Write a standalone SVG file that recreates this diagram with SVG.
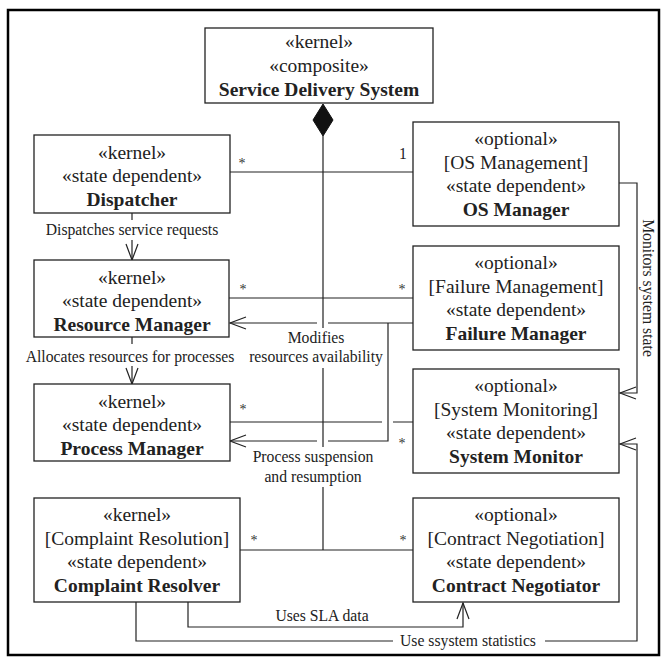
<svg xmlns="http://www.w3.org/2000/svg" width="667" height="662" viewBox="0 0 667 662">
<style>
.box{fill:#fff;stroke:#222;stroke-width:1.3}
.t{font-family:"Liberation Serif","Times New Roman",serif;font-size:19.5px;fill:#222;text-anchor:middle}
.b{font-weight:bold}
.l{font-family:"Liberation Serif","Times New Roman",serif;font-size:15.7px;fill:#222;text-anchor:middle}
.s{font-family:"Liberation Serif","Times New Roman",serif;font-size:14px;fill:#333;text-anchor:middle}
.c{fill:none;stroke:#222;stroke-width:1.2}
</style>
<defs>
<marker id="open" markerWidth="18" markerHeight="14" refX="17" refY="7" orient="auto" markerUnits="userSpaceOnUse" viewBox="0 0 18 14">
<path d="M1,1 L17,7 L1,13" fill="none" stroke="#222" stroke-width="1.2"/>
</marker>
</defs>
<rect x="8" y="10" width="651" height="645" fill="#fff" stroke="#000" stroke-width="2.5"/>

<g id="connectors">
<polygon points="323,104 333,120 323,136 313,120" fill="#111" stroke="#111"/>
<path class="c" d="M323,136 V328 M323,368 V447 M323,487 V550"/>
<path class="c" d="M230,172 H413"/>
<text class="s" x="242" y="168">*</text>
<text class="l" x="403" y="159">1</text>
<path class="c" d="M132,213 V220"/>
<path class="c" d="M132,240 V260" marker-end="url(#open)"/>
<text class="l" x="132" y="235">Dispatches service requests</text>
<path class="c" d="M229,298 H413"/>
<text class="s" x="243" y="294">*</text>
<text class="s" x="402" y="294">*</text>
<path class="c" d="M132,337 V344"/>
<path class="c" d="M132,366 V384" marker-end="url(#open)"/>
<text class="l" x="130" y="362">Allocates resources for processes</text>
<path class="c" d="M413,323 H328"/>
<path class="c" d="M317,323 H230" marker-end="url(#open)"/>
<text class="l" x="316" y="343">Modifies</text>
<text class="l" x="316" y="362">resources availability</text>
<path class="c" d="M388,323 V441 H328"/>
<path class="c" d="M317,441 H230" marker-end="url(#open)"/>
<text class="l" x="313" y="462">Process suspension</text>
<text class="l" x="313" y="482">and resumption</text>
<path class="c" d="M230,422 H382 M393,422 H413"/>
<text class="s" x="243" y="414">*</text>
<text class="s" x="402" y="448">*</text>
<path class="c" d="M619,183 H637 V393 H620" marker-end="url(#open)"/>
<text class="l" transform="translate(648,288) rotate(90)" x="0" y="5">Monitors system state</text>
<path class="c" d="M240,550 H413"/>
<text class="s" x="254" y="545">*</text>
<text class="s" x="403" y="545">*</text>
<path class="c" d="M188,602 V627 H463 V603" marker-end="url(#open)"/>
<text class="l" x="322" y="621">Uses SLA data</text>
<path class="c" d="M136,602 V641 H393"/>
<path class="c" d="M545,641 H637 V444 H620" marker-end="url(#open)"/>
<text class="l" x="468" y="646">Use ssystem statistics</text>
</g>

<g id="sds">
<rect class="box" x="205" y="28" width="228" height="75"/>
<text class="t" x="319" y="48">«kernel»</text>
<text class="t" x="319" y="72">«composite»</text>
<text class="t b" x="319" y="96">Service Delivery System</text>
</g>

<g id="dispatcher">
<rect class="box" x="34" y="135" width="196" height="78"/>
<text class="t" x="132" y="159">«kernel»</text>
<text class="t" x="132" y="182">«state dependent»</text>
<text class="t b" x="132" y="206">Dispatcher</text>
</g>

<g id="os-manager">
<rect class="box" x="413" y="122" width="206" height="104"/>
<text class="t" x="516" y="145">«optional»</text>
<text class="t" x="516" y="169">[OS Management]</text>
<text class="t" x="516" y="192">«state dependent»</text>
<text class="t b" x="516" y="216">OS Manager</text>
</g>

<g id="resource-manager">
<rect class="box" x="34" y="260" width="195" height="77"/>
<text class="t" x="132" y="284">«kernel»</text>
<text class="t" x="132" y="307">«state dependent»</text>
<text class="t b" x="132" y="331">Resource Manager</text>
</g>

<g id="failure-manager">
<rect class="box" x="413" y="246" width="206" height="104"/>
<text class="t" x="516" y="269">«optional»</text>
<text class="t" x="516" y="293">[Failure Management]</text>
<text class="t" x="516" y="316">«state dependent»</text>
<text class="t b" x="516" y="340">Failure Manager</text>
</g>

<g id="process-manager">
<rect class="box" x="34" y="384" width="196" height="77"/>
<text class="t" x="132" y="408">«kernel»</text>
<text class="t" x="132" y="431">«state dependent»</text>
<text class="t b" x="132" y="455">Process Manager</text>
</g>

<g id="system-monitor">
<rect class="box" x="413" y="369" width="206" height="104"/>
<text class="t" x="516" y="392">«optional»</text>
<text class="t" x="516" y="416">[System Monitoring]</text>
<text class="t" x="516" y="439">«state dependent»</text>
<text class="t b" x="516" y="463">System Monitor</text>
</g>

<g id="complaint-resolver">
<rect class="box" x="34" y="498" width="206" height="104"/>
<text class="t" x="137" y="521">«kernel»</text>
<text class="t" x="137" y="545">[Complaint Resolution]</text>
<text class="t" x="137" y="568">«state dependent»</text>
<text class="t b" x="137" y="592">Complaint Resolver</text>
</g>

<g id="contract-negotiator">
<rect class="box" x="413" y="498" width="206" height="104"/>
<text class="t" x="516" y="521">«optional»</text>
<text class="t" x="516" y="545">[Contract Negotiation]</text>
<text class="t" x="516" y="568">«state dependent»</text>
<text class="t b" x="516" y="592">Contract Negotiator</text>
</g>
</svg>
